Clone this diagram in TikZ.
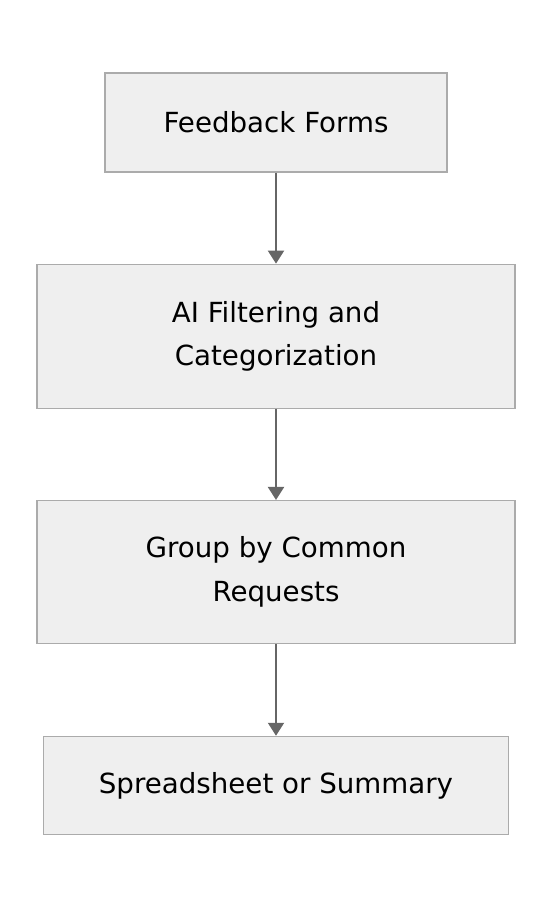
\documentclass[tikz,border=0pt]{standalone}
\usepackage{fontspec}
\setmainfont{DejaVu Sans}
\usetikzlibrary{positioning,arrows.meta}

\definecolor{boxfill}{HTML}{EFEFEF}
\definecolor{boxline}{HTML}{ABABAB}
\definecolor{arrowgray}{HTML}{666666}

\tikzset{
  stagebox/.style={draw=boxline, fill=boxfill, line width=1.3bp, align=center,
    inner sep=0pt, font=\fontsize{27.8}{44}\selectfont},
  flow/.style={draw=arrowgray, line width=2bp, -{Triangle[length=13bp,width=16bp]}}
}

\begin{document}
\begin{tikzpicture}[x=1bp, y=-1bp, node distance=91bp]
    \useasboundingbox (0,0) rectangle (552,908);

    % Stages
    \node[stagebox, minimum width=342bp, minimum height=99bp] (forms) at (276,122.5) {Feedback Forms};
    \node[stagebox, minimum width=478bp, minimum height=144bp, below=of forms] (filter) {AI Filtering and\\Categorization};
    \node[stagebox, minimum width=478bp, minimum height=143bp, below=of filter] (group) {Group by Common\\Requests};
    \node[stagebox, minimum width=465bp, minimum height=98bp, below=91.5bp of group] (summary) {Spreadsheet or Summary};

    % Flow
    \draw[flow] (forms) -- (filter);
    \draw[flow] (filter) -- (group);
    \draw[flow] (group) -- (summary);
\end{tikzpicture}
\end{document}
